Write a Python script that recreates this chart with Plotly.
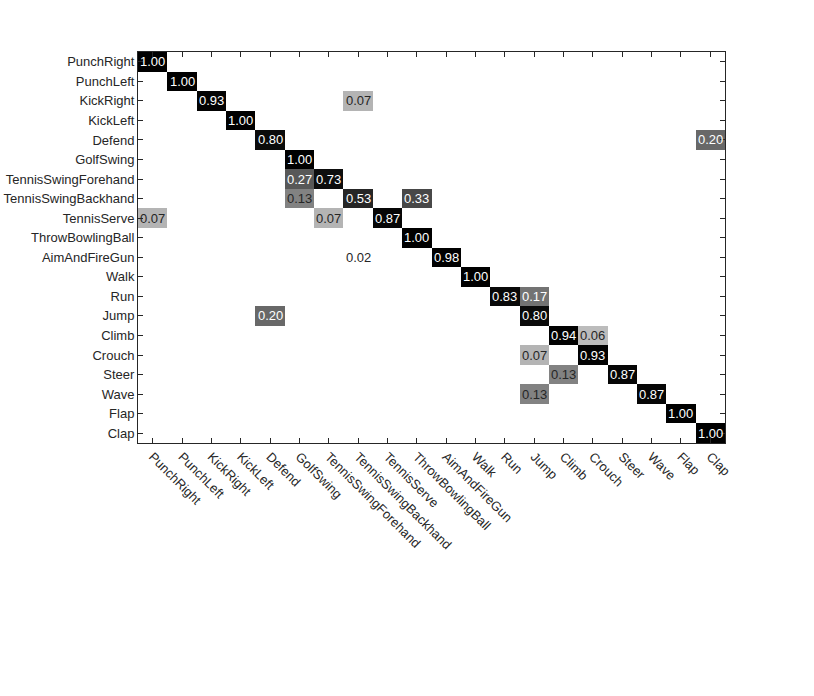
import plotly.graph_objects as go

classes = ["PunchRight", "PunchLeft", "KickRight", "KickLeft", "Defend",
           "GolfSwing", "TennisSwingForehand", "TennisSwingBackhand",
           "TennisServe", "ThrowBowlingBall", "AimAndFireGun", "Walk", "Run",
           "Jump", "Climb", "Crouch", "Steer", "Wave", "Flap", "Clap"]

# non-zero cells of the confusion matrix: (true row, predicted column, rate)
rows = [0, 1, 2, 2, 3, 4, 4, 5, 6, 6, 7, 7, 7, 8, 8, 8, 9, 10, 10, 11,
        12, 12, 13, 13, 14, 14, 15, 15, 16, 16, 17, 17, 18, 19]
cols = [0, 1, 2, 7, 3, 4, 19, 5, 5, 6, 5, 7, 9, 0, 6, 8, 9, 7, 10, 11,
        12, 13, 4, 13, 14, 15, 13, 15, 14, 16, 13, 17, 18, 19]
rates = [1.00, 1.00, 0.93, 0.07, 1.00, 0.80, 0.20, 1.00, 0.27, 0.73,
         0.13, 0.53, 0.33, 0.07, 0.07, 0.87, 1.00, 0.02, 0.98, 1.00,
         0.83, 0.17, 0.20, 0.80, 0.94, 0.06, 0.07, 0.93, 0.13, 0.87,
         0.13, 0.87, 1.00, 1.00]

n = len(classes)
z = [[0.0] * n for _ in range(n)]
for r, c, v in zip(rows, cols, rates):
    z[r][c] = v

# inverted, non-linear gray map as seen in the picture
gray = [[0.0, "rgb(255,255,255)"], [0.02, "rgb(255,255,255)"],
        [0.06, "rgb(188,188,188)"], [0.07, "rgb(180,180,180)"],
        [0.13, "rgb(130,130,130)"], [0.20, "rgb(104,104,104)"],
        [0.27, "rgb(88,88,88)"], [0.33, "rgb(72,72,72)"],
        [0.53, "rgb(38,38,38)"], [0.73, "rgb(14,14,14)"],
        [0.80, "rgb(11,11,11)"], [0.90, "rgb(4,4,4)"],
        [1.0, "rgb(0,0,0)"]]

fig = go.Figure()
fig.add_trace(go.Heatmap(
    z=z, x=list(range(n)), y=list(range(n)),
    colorscale=gray, zmin=0, zmax=1, showscale=False,
    hoverinfo="skip"
))

for r, c, v in zip(rows, cols, rates):
    fig.add_annotation(
        x=c, y=r, text="{:.2f}".format(v), showarrow=False,
        font=dict(size=13, color="white" if v > 0.15 else "#262626"),
        xanchor="center", yanchor="middle"
    )

axis_style = dict(
    showline=True, linecolor="#262626", linewidth=1, mirror="ticks",
    ticks="inside", ticklen=5, tickcolor="#262626", showgrid=False,
    zeroline=False, tickmode="array", tickvals=list(range(n)),
    ticktext=classes, tickfont=dict(size=13, color="#262626"),
    automargin=False
)

fig.update_xaxes(range=[-0.5, n - 0.5], tickangle=45, **axis_style)
fig.update_yaxes(range=[n - 0.5, -0.5], **axis_style)

fig.update_layout(
    width=814, height=696,
    margin=dict(l=138, r=89, t=52, b=253),
    paper_bgcolor="white", plot_bgcolor="white",
    font=dict(family="Liberation Sans, Arial, sans-serif", color="#262626")
)

# drop the default body margin so the long row labels fit on the page
fig.write_html("out.html", config={"displayModeBar": False},
               post_script="document.body.style.margin = '0';")
